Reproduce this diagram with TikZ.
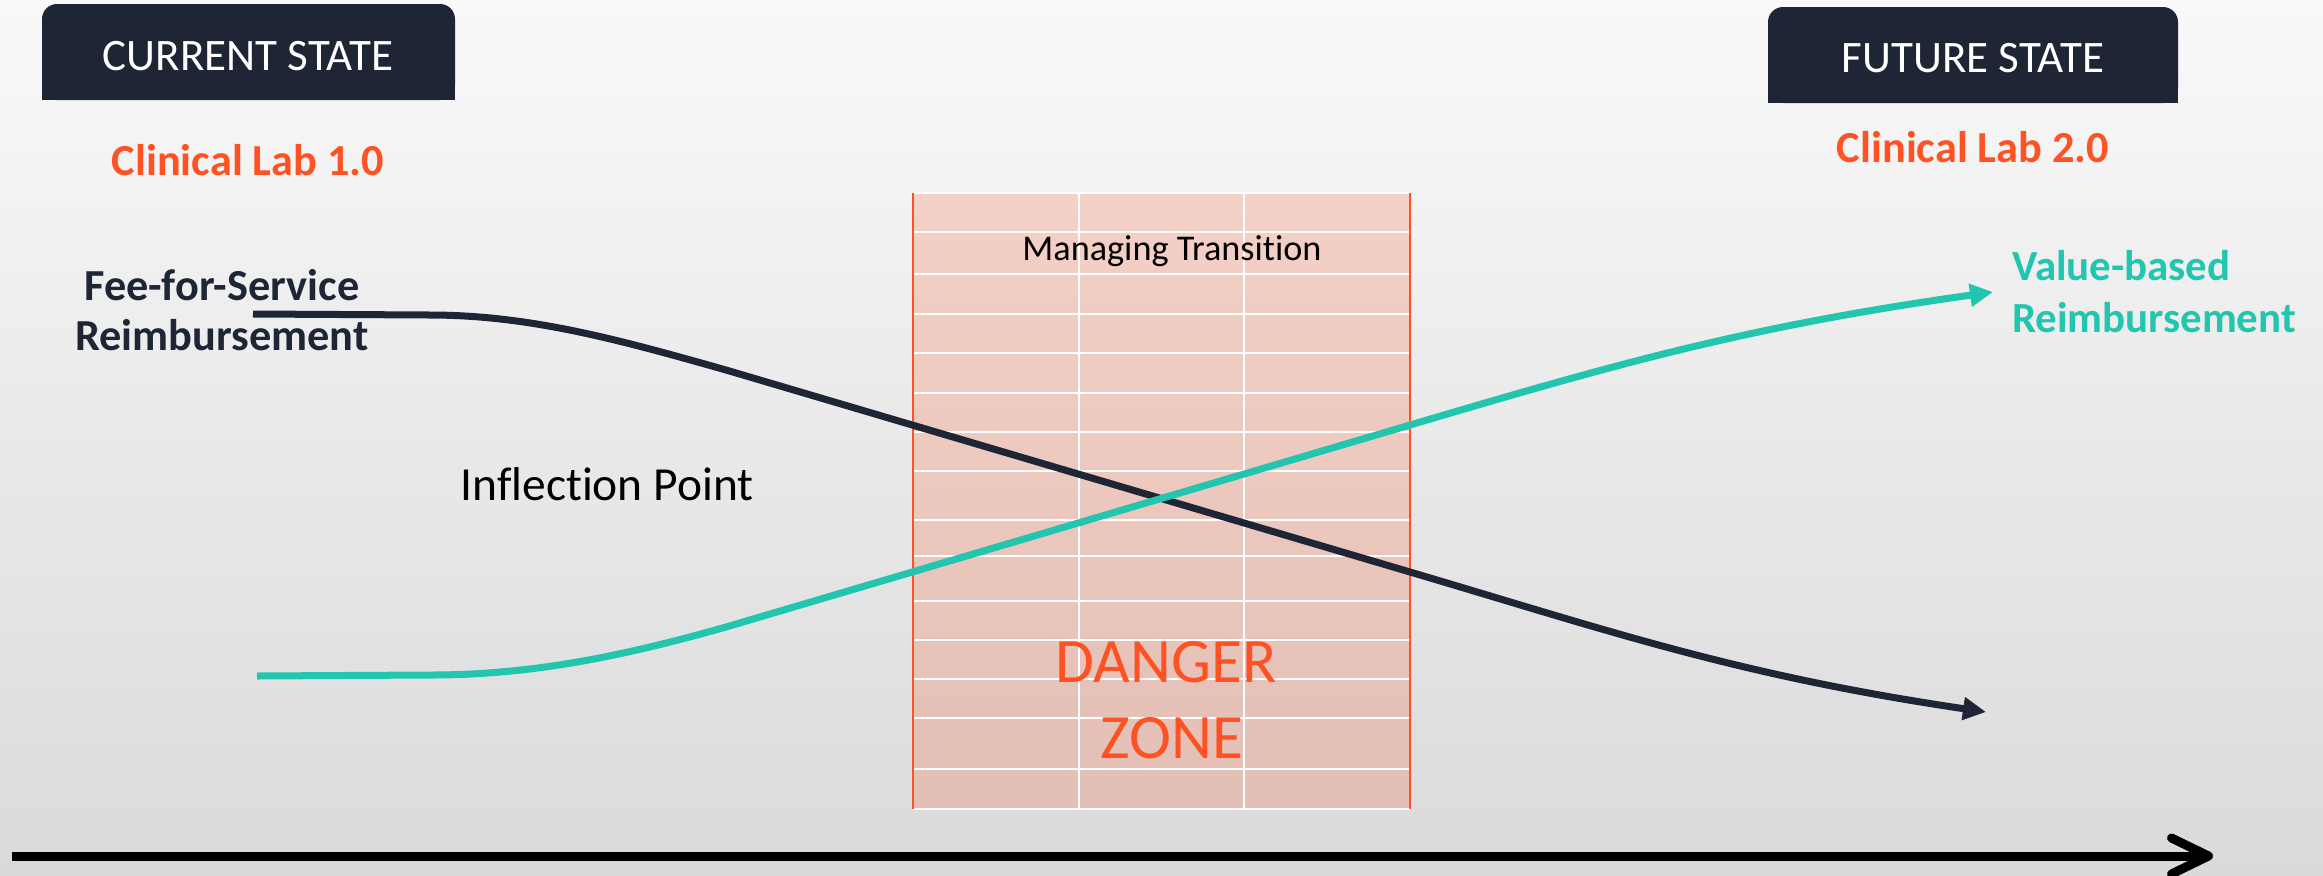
\documentclass[tikz,border=0pt]{standalone}
\usepackage{fontspec}
\setmainfont{Carlito}[RawFeature={-liga}]
\usetikzlibrary{arrows.meta}

\definecolor{c1e2535}{RGB}{30,37,53}
\definecolor{cff5224}{RGB}{255,82,36}
\definecolor{c22c5ae}{RGB}{34,197,174}
\definecolor{cf9f9f9}{RGB}{249,249,249}
\definecolor{cdadada}{RGB}{218,218,218}

\begin{document}
\begin{tikzpicture}[y=0.01cm, x=0.01cm, yscale=-1, inner sep=0pt, outer sep=0pt,
    headbox/.style={fill=c1e2535},
    gridline/.style={draw=white, line width=0.6pt},
    trend/.style={line width=0.07cm, line cap=butt,
      -{Triangle[length=0.23cm, width=0.22cm]}}]
  \useasboundingbox (0,0) rectangle (2323,875);
  \shade[top color=cf9f9f9, bottom color=cdadada] (0,0) rectangle (2323,875);

  % state tabs
  \path[headbox, rounded corners=0.15cm] (42,4) rectangle (455,100);
  \path[headbox] (42,50) rectangle (455,100);
  \path[headbox, rounded corners=0.15cm] (1768,7) rectangle (2178,103);
  \path[headbox] (1768,50) rectangle (2178,103);
  \node[anchor=base, text=white] (txtcurrent) at (248,70)
    {\fontsize{12.8}{15}\selectfont CURRENT STATE};
  \node[anchor=base, text=white] (txtfuture) at (1973,72)
    {\fontsize{12.8}{15}\selectfont FUTURE STATE};
  \node[anchor=base, text=cff5224] (txtlabone) at (248,175)
    {\fontsize{12.6}{15}\selectfont\bfseries Clinical Lab 1.0};
  \node[anchor=base, text=cff5224] (txtlabtwo) at (1973,162)
    {\fontsize{12.6}{15}\selectfont\bfseries Clinical Lab 2.0};

  % transition block
  \path[fill=cff5224, fill opacity=0.21] (913,193) rectangle (1410,809);
  \foreach \y in {193,232,274,314,353,393,432,471,520,556,601,640,679,718,769,809}
    \path[gridline] (913,\y) -- (1410,\y);
  \foreach \x in {1079,1244}
    \path[gridline] (\x,193) -- (\x,809);
  \path[draw=cff5224, line width=0.8pt] (913,193) -- (913,809)
    (1410,193) -- (1410,809);
  \node[anchor=base] (txtmanaging) at (1172,260)
    {\fontsize{10.3}{12}\selectfont Managing Transition};
  \node[anchor=base, text=cff5224] (txtdanger) at (1166,682)
    {\fontsize{18}{21}\selectfont DANGER};
  \node[anchor=base, text=cff5224] (txtzone) at (1172,758)
    {\fontsize{18}{21}\selectfont ZONE};

  \node[anchor=base] (txtinflection) at (607,500)
    {\fontsize{13.5}{16}\selectfont Inflection Point};

  % reimbursement curves
  \node[anchor=base, text=c1e2535] (txtfee) at (222,300)
    {\fontsize{12.6}{15}\selectfont\bfseries Fee-for-Service};
  \node[anchor=base, text=c1e2535] (txtfeereimb) at (222,350)
    {\fontsize{12.6}{15}\selectfont\bfseries Reimbursement};
  \node[anchor=base west, text=c22c5ae] (txtvalue) at (2012,280)
    {\fontsize{12.2}{15}\selectfont\bfseries Value-based};
  \node[anchor=base west, text=c22c5ae] (txtvaluereimb) at (2012,332)
    {\fontsize{12.2}{15}\selectfont\bfseries Reimbursement};

  \coordinate (feestart) at (253,314);
  \coordinate (feeend) at (1986,712);
  \coordinate (valuestart) at (257,676);
  \coordinate (valueend) at (1993,292);
  \draw[trend, c1e2535] (feestart) -- (430,315) .. controls (530,315) and
    (620,340) .. (726,370) -- (1410,572) .. controls (1610,631) and
    (1736,675) .. (feeend);
  \draw[trend, c22c5ae] (valuestart) -- (430,675) .. controls (530,675) and
    (620,657) .. (726,627) -- (1410,425) .. controls (1610,366) and
    (1743,327) .. (valueend);

  % time axis
  \coordinate (axisstart) at (12,856);
  \coordinate (axisend) at (2213,856);
  \draw[black, line width=0.09cm,
    -{Straight Barb[length=0.37cm, width=0.36cm, round]}] (axisstart) -- (axisend);
\end{tikzpicture}
\end{document}
